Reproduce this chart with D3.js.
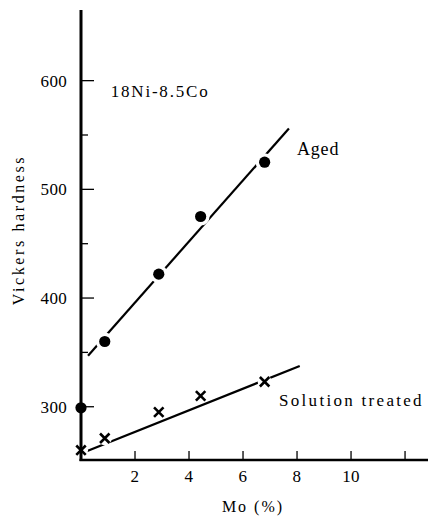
<!DOCTYPE html>
<html>
<head>
<meta charset="utf-8">
<script src="https://cdn.jsdelivr.net/npm/d3@7/dist/d3.min.js"></script>
<style>
  html, body { margin: 0; padding: 0; background: #fff; }
  svg { display: block; }
</style>
</head>
<body>
<svg id="chart" width="430" height="518"></svg>
<script>
// ---- data ----
const mo = [0, 0.88, 2.88, 4.43, 6.8];
const agedHardness = [299, 360, 422, 475, 525];
const solutionHardness = [260, 271, 295, 310, 323];
const agedFitMo = [0.26, 7.7];
const agedFitHardness = [347, 556];
const solutionFitMo = [0, 8.1];
const solutionFitHardness = [257, 337.5];
const xTicks = [2, 4, 6, 8, 10, 12];
const xTickLabels = ["2", "4", "6", "8", "10", ""];
const yMajorTicks = [300, 400, 500, 600];
const yMinorTicks = [350, 450, 550];
const xTitle = "Mo (%)";
const yTitle = "Vickers hardness";
const alloyLabel = "18Ni-8.5Co";
const seriesNames = ["Aged", "Solution treated"];

const FONT = "Liberation Serif";

// ---- layout ----
const svg = d3.select("#chart");
const x = d3.scaleLinear().domain([0, 12.85]).range([81, 428]);
const y = d3.scaleLinear().domain([251, 665]).range([460, 10]);

const line = d3.line().x(d => x(d[0])).y(d => y(d[1]));

// fit lines
svg.append("path")
  .datum(d3.zip(agedFitMo, agedFitHardness))
  .attr("d", line).attr("fill", "none").attr("stroke", "#000").attr("stroke-width", 2.2);
svg.append("path")
  .datum(d3.zip(solutionFitMo, solutionFitHardness))
  .attr("d", line).attr("fill", "none").attr("stroke", "#000").attr("stroke-width", 2.2);

// aged markers (circles with white halo to break the line)
const agedPts = d3.zip(mo, agedHardness);
svg.append("g").selectAll("circle").data(agedPts).join("circle")
  .attr("cx", d => x(d[0])).attr("cy", d => y(d[1])).attr("r", 9).attr("fill", "#fff");
svg.append("g").selectAll("circle").data(agedPts).join("circle")
  .attr("cx", d => x(d[0])).attr("cy", d => y(d[1])).attr("r", 5.6).attr("fill", "#000");

// solution markers (crosses)
const solPts = d3.zip(mo, solutionHardness);
const cross = d3.symbol().type(d3.symbolX).size(60);
svg.append("g").selectAll("circle").data(solPts).join("circle")
  .attr("cx", d => x(d[0])).attr("cy", d => y(d[1])).attr("r", 7).attr("fill", "#fff");
svg.append("g").selectAll("path").data(solPts).join("path")
  .attr("d", cross)
  .attr("transform", d => `translate(${x(d[0])},${y(d[1])})`)
  .attr("fill", "none").attr("stroke", "#000").attr("stroke-width", 2.6);

// y axis
const yAxisG = svg.append("g").attr("transform", `translate(${x(0)},0)`);
yAxisG.append("line").attr("y1", 10).attr("y2", 461).attr("stroke", "#000").attr("stroke-width", 3);
yAxisG.selectAll("line.maj").data(yMajorTicks).join("line").attr("class", "maj")
  .attr("x1", 0).attr("x2", 13).attr("y1", d => y(d)).attr("y2", d => y(d))
  .attr("stroke", "#000").attr("stroke-width", 1.3);
yAxisG.selectAll("line.min").data(yMinorTicks).join("line").attr("class", "min")
  .attr("x1", 0).attr("x2", 7).attr("y1", d => y(d)).attr("y2", d => y(d))
  .attr("stroke", "#000").attr("stroke-width", 1.3);
yAxisG.selectAll("text").data(yMajorTicks).join("text")
  .attr("x", -14).attr("y", d => y(d)).attr("dy", "0.35em")
  .attr("text-anchor", "end").attr("font-family", FONT).attr("font-size", 17)
  .style("letter-spacing", "0.3px")
  .text(d => d);

// x axis
const xAxisG = svg.append("g").attr("transform", `translate(0,${y(251)})`);
xAxisG.append("line").attr("x1", x(0) - 1.5).attr("x2", 428).attr("stroke", "#000").attr("stroke-width", 2.4);
xAxisG.selectAll("line.tk").data(xTicks).join("line").attr("class", "tk")
  .attr("x1", d => x(d)).attr("x2", d => x(d)).attr("y1", 0).attr("y2", -9)
  .attr("stroke", "#000").attr("stroke-width", 1.3);
xAxisG.selectAll("text").data(d3.zip(xTicks, xTickLabels)).join("text")
  .attr("x", d => x(d[0])).attr("y", 22)
  .attr("text-anchor", "middle").attr("font-family", FONT).attr("font-size", 17)
  .style("letter-spacing", "0.3px")
  .text(d => d[1]);

// axis titles
svg.append("text").attr("x", 253).attr("y", 512).attr("text-anchor", "middle")
  .attr("font-family", FONT).attr("font-size", 16).style("letter-spacing", "2px").text(xTitle);
svg.append("text").attr("transform", "translate(24,230) rotate(-90)").attr("text-anchor", "middle")
  .attr("font-family", FONT).attr("font-size", 16).style("letter-spacing", "2.6px").text(yTitle);

// annotations
svg.append("text").attr("x", x(1.1)).attr("y", 97).attr("font-family", FONT).attr("font-size", 17)
  .style("letter-spacing", "1.8px").text(alloyLabel);
svg.append("text").attr("x", 297).attr("y", 155).attr("font-family", FONT).attr("font-size", 18)
  .style("letter-spacing", "0.8px").text(seriesNames[0]);
svg.append("text").attr("x", 279).attr("y", 406).attr("font-family", FONT).attr("font-size", 17)
  .style("letter-spacing", "2.3px").text(seriesNames[1]);
</script>
</body>
</html>
